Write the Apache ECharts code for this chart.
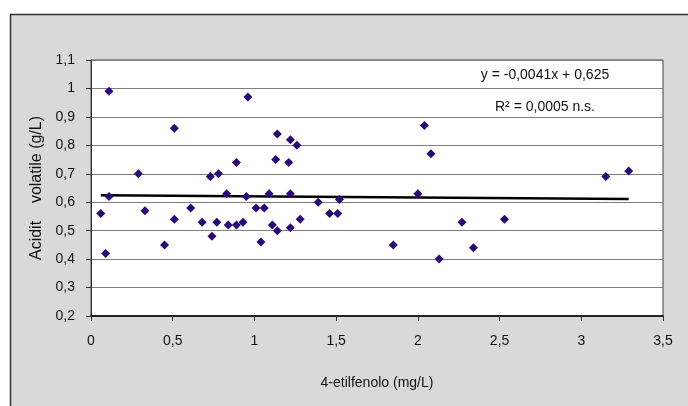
<!DOCTYPE html>
<html><head><meta charset="utf-8">
<script src="https://cdn.jsdelivr.net/npm/echarts@6/dist/echarts.min.js"></script>
<style>html,body{margin:0;padding:0;background:#fff}#c{width:688px;height:406px}</style>
</head><body><div id="c"></div>
<script>
var xValues = [0.06,0.09,0.11,0.11,0.29,0.33,0.45,0.51,0.51,0.61,0.68,0.73,0.74,0.77,0.78,0.83,0.84,0.89,0.89,0.93,0.95,0.96,1.01,1.04,1.06,1.09,1.11,1.13,1.14,1.14,1.22,1.22,1.21,1.22,1.26,1.28,1.39,1.46,1.51,1.52,1.85,2.00,2.04,2.08,2.13,2.27,2.34,2.53,3.15,3.29];
var yValues = [0.56,0.42,0.99,0.62,0.70,0.57,0.45,0.86,0.54,0.58,0.53,0.69,0.48,0.53,0.70,0.63,0.52,0.74,0.52,0.53,0.62,0.97,0.58,0.46,0.58,0.63,0.52,0.75,0.84,0.50,0.63,0.51,0.74,0.82,0.80,0.54,0.60,0.56,0.56,0.61,0.45,0.63,0.87,0.77,0.40,0.53,0.44,0.54,0.69,0.71];
var trendSlope = -0.0041, trendIntercept = 0.625;
var eqText = 'y = -0,0041x + 0,625';
var r2Text = 'R\u00B2 = 0,0005 n.s.';
var xTitle = '4-etilfenolo (mg/L)';
var yTitle = 'Acidit    volatile (g/L)';

var pts = xValues.map(function(x,i){return [x,yValues[i]];});
var xmin = Math.min.apply(null,xValues), xmax = Math.max.apply(null,xValues);
var trend = [[xmin, trendSlope*xmin+trendIntercept],[xmax, trendSlope*xmax+trendIntercept]];
function fmt(v){return parseFloat(v.toFixed(2)).toString().replace('.',',');}
var font = 'Liberation Sans, Arial, sans-serif';
var chart = echarts.init(document.getElementById('c'));
chart.setOption({
  animation:false,
  backgroundColor:'#ffffff',
  grid:{left:91,top:60,right:25,bottom:90,show:true,backgroundColor:'#fff',borderColor:'#444',borderWidth:1},
  xAxis:{type:'value',min:0,max:3.5,interval:0.5,
    name:xTitle,nameLocation:'middle',nameGap:60,nameTextStyle:{color:'#111',fontFamily:font,fontSize:14},
    axisLine:{show:true,onZero:false,lineStyle:{color:'#000',width:1.5}},
    axisTick:{show:true,length:5,lineStyle:{color:'#333'}},
    axisLabel:{formatter:fmt,color:'#111',fontFamily:font,fontSize:14,margin:18},
    splitLine:{show:false}},
  yAxis:{type:'value',min:0.2,max:1.1,interval:0.1,
    name:yTitle,nameLocation:'middle',nameGap:45,nameTextStyle:{color:'#111',fontFamily:font,fontSize:16},
    axisLine:{show:true,onZero:false,lineStyle:{color:'#333'}},
    axisTick:{show:true,length:5,lineStyle:{color:'#333'}},
    axisLabel:{formatter:fmt,color:'#111',fontFamily:font,fontSize:14,margin:16},
    splitLine:{show:true,lineStyle:{color:'#7f7f7f',width:1}}},
  series:[
    {type:'scatter',data:pts,symbol:'diamond',symbolSize:9,itemStyle:{color:'#2a0a78',opacity:1},z:3},
    {type:'line',data:trend,symbol:'none',lineStyle:{color:'#000',width:2.5},z:2,silent:true}
  ],
  graphic:[
    {type:'rect',z:-10,shape:{x:10.5,y:14.5,width:690,height:400},style:{fill:'#d9d9d9',stroke:'#333',lineWidth:1.5}},
    {type:'text',z:10,x:545,y:75,style:{text:eqText,fill:'#111',font:'14px '+font,textAlign:'center',textVerticalAlign:'middle'}},
    {type:'text',z:10,x:545,y:107,style:{text:r2Text,fill:'#111',font:'14px '+font,textAlign:'center',textVerticalAlign:'middle'}}
  ]
});
</script></body></html>
